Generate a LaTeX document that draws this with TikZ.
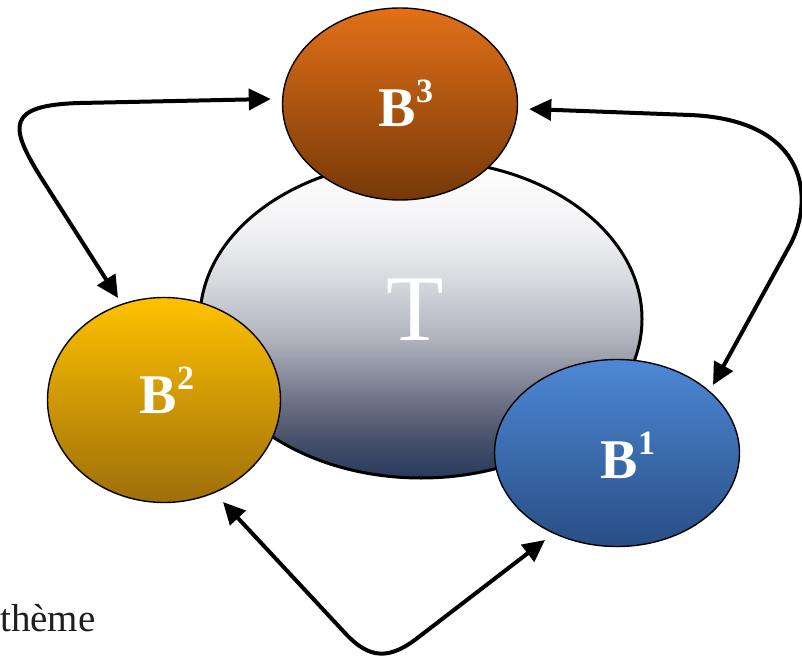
\documentclass[tikz,border=0pt]{standalone}
\usepackage{fontspec}
\setmainfont{Liberation Serif}
\usetikzlibrary{shapes.geometric,arrows.meta,calc}
\definecolor{bthreetop}{RGB}{226,112,24}
\definecolor{bthreebot}{RGB}{118,56,8}
\definecolor{btwotop}{RGB}{255,194,0}
\definecolor{btwobot}{RGB}{158,110,10}
\definecolor{bonetop}{RGB}{78,136,214}
\definecolor{bonebot}{RGB}{40,78,132}
\definecolor{tsa}{RGB}{40,58,92}
\definecolor{tsb}{RGB}{70,80,105}
\definecolor{tsc}{RGB}{110,115,135}
\definecolor{tsd}{RGB}{175,178,188}
\definecolor{tse}{RGB}{215,217,222}
\definecolor{tsf}{RGB}{242,242,244}
\definecolor{tsg}{RGB}{255,255,255}
\pgfdeclareverticalshading{tshade}{100bp}{color(0bp)=(tsa); color(25bp)=(tsa); color(31bp)=(tsb); color(37.3bp)=(tsc); color(46.7bp)=(tsd); color(56bp)=(tse); color(64bp)=(tsf); color(75bp)=(tsg); color(100bp)=(tsg)}
\newcommand{\blab}[1]{\fontsize{56}{60}\selectfont\bfseries B\raisebox{24pt}{\fontsize{34}{34}\selectfont #1}}
\tikzset{
  blob/.style={ellipse, draw=black, line width=1.4pt, inner sep=0pt},
  biarrow/.style={line width=4pt, {Triangle[length=22pt,width=21pt]}-{Triangle[length=22pt,width=21pt]}},
  lab/.style={anchor=base, inner sep=0pt, text=white}
}
\begin{document}
\begin{tikzpicture}[x=1pt,y=-1pt]
\useasboundingbox (0,0) rectangle (802,655);
% central ellipse T
\node[blob, line width=3pt, minimum width=442pt, minimum height=318pt,
  shading=tshade] (T) at (421,319) {};
\node[lab, font=\fontsize{94}{100}\selectfont] (Tl) at (415,340) {T};
% satellites
\node[blob, minimum width=235pt, minimum height=192pt,
  top color=bthreetop, bottom color=bthreebot] (B3) at (400,104) {};
\node[blob, minimum width=233pt, minimum height=205pt,
  top color=btwotop, bottom color=btwobot] (B2) at (164,400) {};
\node[blob, minimum width=245pt, minimum height=187pt,
  top color=bonetop, bottom color=bonebot] (B1) at (617,453) {};
\node[lab] (B3l) at (406,127) {\blab{3}};
\node[lab] (B2l) at (167,413) {\blab{2}};
\node[lab] (B1l) at (628,478) {\blab{1}};
% connectors
\draw[biarrow] ($(B3.west)+(-11,-5)$) -- (80,103) .. controls (5,105) and (10,127) .. (40,176) -- ($(B2.center)+(-46,-102)$);
\draw[biarrow] ($(B3.east)+(11,5)$) -- (690,115) .. controls (810,120) and (814,201) .. (790,245) -- ($(B1.center)+(96,-68)$);
\draw[biarrow] ($(B2.center)+(59,102)$) -- (345,633) .. controls (370,660) and (390,660) .. (420,636) -- ($(B1.center)+(-72,87)$);
% cut-off caption text
\node[anchor=base west, inner sep=0pt, text={rgb,255:red,30;green,30;blue,30},
  font=\fontsize{39}{42}\selectfont] (cap) at (0,631) {thème};
\end{tikzpicture}
\end{document}
